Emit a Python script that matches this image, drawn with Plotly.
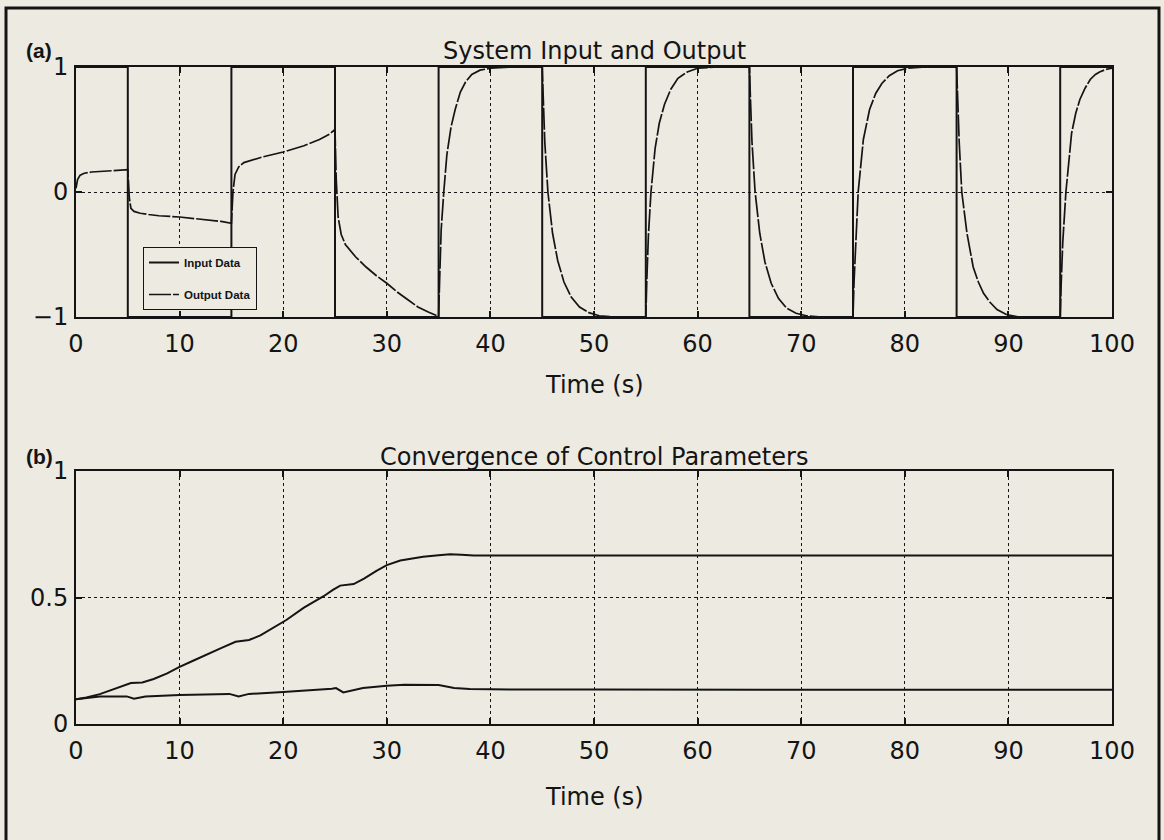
import plotly.graph_objects as go

W, H = 1164, 840

# ---------------- data ----------------
input_t = [0, 5, 5, 15, 15, 25, 25, 35, 35, 45, 45, 55, 55, 65, 65, 75, 75, 85, 85, 95, 95, 100]
input_y = [1, 1, -1, -1, 1, 1, -1, -1, 1, 1, -1, -1, 1, 1, -1, -1, 1, 1, -1, -1, 1, 1]

output_t = [
    0, 0.15, 0.4, 0.8, 1.5, 2.5, 4, 5,
    5.15, 5.3, 5.6, 6.2, 7, 8, 10, 12, 14, 15,
    15.15, 15.35, 15.7, 16.2, 17, 18, 20, 22, 23.5, 24.5, 25,
    25.12, 25.3, 25.6, 26, 26.5, 27, 28, 29, 30, 31, 32, 33, 34, 35,
    35.1, 35.25, 35.5, 35.8, 36.2, 36.6, 37.1, 37.6, 38.2, 39, 40, 42, 45,
    45.1, 45.25, 45.55, 46, 46.5, 47.1, 47.8, 48.6, 49.5, 50.5, 52, 55,
    55.1, 55.25, 55.5, 55.9, 56.3, 56.8, 57.4, 58.1, 59, 60, 62, 65,
    65.1, 65.25, 65.55, 66, 66.5, 67.1, 67.8, 68.6, 69.5, 70.5, 72, 75,
    75.1, 75.25, 75.5, 76, 76.6, 77.2, 77.8, 78.5, 79.3, 80.3, 82, 85,
    85.1, 85.25, 85.5, 86, 86.6, 87.1, 87.6, 88.2, 88.9, 89.8, 91, 95,
    95.1, 95.25, 95.55, 96.1, 96.5, 96.9, 97.4, 97.9, 98.4, 98.8, 99.4, 100,
]
output_y = [
    0.03, 0.10, 0.135, 0.15, 0.16, 0.165, 0.172, 0.178,
    -0.05, -0.13, -0.155, -0.17, -0.18, -0.19, -0.20, -0.215, -0.235, -0.25,
    0.0, 0.14, 0.20, 0.235, 0.255, 0.28, 0.32, 0.37, 0.42, 0.465, 0.50,
    0.10, -0.20, -0.34, -0.42, -0.47, -0.52, -0.60, -0.67, -0.73, -0.80, -0.86, -0.92, -0.96, -0.995,
    -0.70, -0.30, 0.0, 0.30, 0.52, 0.66, 0.80, 0.88, 0.94, 0.975, 0.99, 1.0, 1.0,
    0.75, 0.40, 0.0, -0.33, -0.55, -0.72, -0.84, -0.92, -0.965, -0.99, -1.0, -1.0,
    -0.70, -0.35, 0.0, 0.35, 0.55, 0.70, 0.82, 0.91, 0.96, 0.99, 1.0, 1.0,
    0.75, 0.40, 0.0, -0.33, -0.56, -0.73, -0.85, -0.93, -0.97, -0.99, -1.0, -1.0,
    -0.72, -0.40, 0.0, 0.42, 0.66, 0.79, 0.87, 0.93, 0.97, 0.99, 1.0, 1.0,
    0.72, 0.40, 0.0, -0.33, -0.60, -0.72, -0.81, -0.88, -0.94, -0.98, -1.0, -1.0,
    -0.72, -0.40, 0.0, 0.47, 0.63, 0.74, 0.83, 0.90, 0.94, 0.96, 0.98, 0.99,
]

param1_t = [0, 1, 2.3, 3.5, 4.5, 5.3, 6.4, 7.5, 8.8, 10, 11.3, 12.6, 14, 15.4, 16.7, 17.8, 19,
            20.3, 22, 23.9, 24.8, 25.5, 26.8, 27.8, 29, 30, 31.3, 32.5, 33.5, 35, 36.1, 37.2,
            38.4, 40, 50, 60, 70, 80, 90, 100]
param1_y = [0.098, 0.105, 0.118, 0.135, 0.15, 0.162, 0.164, 0.178, 0.20, 0.226, 0.25, 0.275,
            0.30, 0.325, 0.332, 0.35, 0.378, 0.411, 0.46, 0.505, 0.53, 0.547, 0.553, 0.575,
            0.605, 0.628, 0.646, 0.655, 0.661, 0.667, 0.671, 0.669, 0.666, 0.666, 0.666,
            0.666, 0.666, 0.666, 0.666, 0.666]

param2_t = [0, 2.3, 4.9, 5.6, 6.7, 10, 14.8, 15.7, 16.7, 20, 24.7, 25.1, 25.8, 26.5, 27.7,
            30, 31.7, 35, 36.5, 38, 40, 50, 60, 70, 80, 90, 100]
param2_y = [0.098, 0.109, 0.109, 0.10, 0.109, 0.115, 0.119, 0.109, 0.119, 0.126, 0.139, 0.142,
            0.125, 0.132, 0.142, 0.151, 0.155, 0.154, 0.142, 0.138, 0.137, 0.136, 0.136,
            0.135, 0.135, 0.135, 0.135]

x_ticks = [0, 10, 20, 30, 40, 50, 60, 70, 80, 90, 100]
top_y_ticks = [-1, 0, 1]
top_y_labels = ["\u22121", "0", "1"]
bot_y_ticks = [0, 0.5, 1]
bot_y_labels = ["0", "0.5", "1"]

BG = "#eceae1"
INK = "#141414"
FONT = "DejaVu Sans"

# ---------------- figure ----------------
fig = go.Figure()
fig.add_trace(go.Scatter(x=input_t, y=input_y, mode="lines", name="Input Data",
                         line=dict(color=INK, width=2), xaxis="x", yaxis="y",
                         legendgroup="a"))
fig.add_trace(go.Scatter(x=output_t, y=output_y, mode="lines", name="Output Data",
                         line=dict(color=INK, width=1.7, dash="22px,2px"), xaxis="x", yaxis="y",
                         legendgroup="b"))
fig.add_trace(go.Scatter(x=param1_t, y=param1_y, mode="lines", showlegend=False,
                         line=dict(color=INK, width=2), xaxis="x2", yaxis="y2"))
fig.add_trace(go.Scatter(x=param2_t, y=param2_y, mode="lines", showlegend=False,
                         line=dict(color=INK, width=2), xaxis="x2", yaxis="y2"))

def px_x(p):
    return p / W

def px_y(p):
    return 1 - p / H

xdom = [px_x(76), px_x(1112)]
top_dom = [px_y(317), px_y(67)]
bot_dom = [px_y(724), px_y(471)]

common_axis = dict(showline=True, linecolor=INK, linewidth=2, mirror="ticks",
                   ticks="inside", ticklen=6, tickcolor=INK, tickwidth=1.5,
                   showgrid=True, gridcolor=INK, gridwidth=1, griddash="dot",
                   zeroline=False, automargin=False,
                   tickfont=dict(family=FONT, size=24, color=INK))

fig.update_layout(
    width=W, height=H,
    margin=dict(l=0, r=0, t=0, b=0),
    paper_bgcolor=BG, plot_bgcolor=BG,
    xaxis=dict(domain=xdom, anchor="y", range=[0, 100], tickvals=x_ticks,
               ticklabelstandoff=4, **common_axis),
    yaxis=dict(domain=top_dom, anchor="x", range=[-1, 1], tickvals=top_y_ticks,
               ticktext=top_y_labels, ticklabelstandoff=1, **common_axis),
    xaxis2=dict(domain=xdom, anchor="y2", range=[0, 100], tickvals=x_ticks,
                ticklabelstandoff=4, **common_axis),
    yaxis2=dict(domain=bot_dom, anchor="x2", range=[0, 1], tickvals=bot_y_ticks,
                ticktext=bot_y_labels, ticklabelstandoff=1, **common_axis),
    legend=dict(x=px_x(143), y=px_y(247), xanchor="left", yanchor="top",
                bgcolor=BG, bordercolor=INK, borderwidth=1,
                font=dict(family="Liberation Sans", size=11.5, color=INK, weight="bold"),
                tracegroupgap=13, itemwidth=30),
    showlegend=True,
)

ann_font = dict(family=FONT, size=24, color=INK)
fig.add_annotation(text="System Input and Output", x=px_x(594), y=px_y(51), xref="paper",
                   yref="paper", showarrow=False, font=ann_font, xanchor="center", yanchor="middle")
fig.add_annotation(text="Convergence of Control Parameters", x=px_x(594), y=px_y(457),
                   xref="paper", yref="paper", showarrow=False, font=ann_font,
                   xanchor="center", yanchor="middle")
fig.add_annotation(text="Time (s)", x=px_x(594), y=px_y(385), xref="paper", yref="paper",
                   showarrow=False, font=ann_font, xanchor="center", yanchor="middle")
fig.add_annotation(text="Time (s)", x=px_x(594), y=px_y(797), xref="paper", yref="paper",
                   showarrow=False, font=ann_font, xanchor="center", yanchor="middle")
lab_font = dict(family="Liberation Sans", size=21, color=INK, weight="bold")
fig.add_annotation(text="(a)", x=px_x(39), y=px_y(50), xref="paper", yref="paper",
                   showarrow=False, font=lab_font, xanchor="center", yanchor="middle")
fig.add_annotation(text="(b)", x=px_x(39), y=px_y(457), xref="paper", yref="paper",
                   showarrow=False, font=lab_font, xanchor="center", yanchor="middle")

# outer frame
fig.add_shape(type="rect", xref="paper", yref="paper", x0=px_x(6), x1=px_x(1159),
              y0=-0.02, y1=px_y(8), line=dict(color=INK, width=3), layer="below")

fig.write_html("out.html")
